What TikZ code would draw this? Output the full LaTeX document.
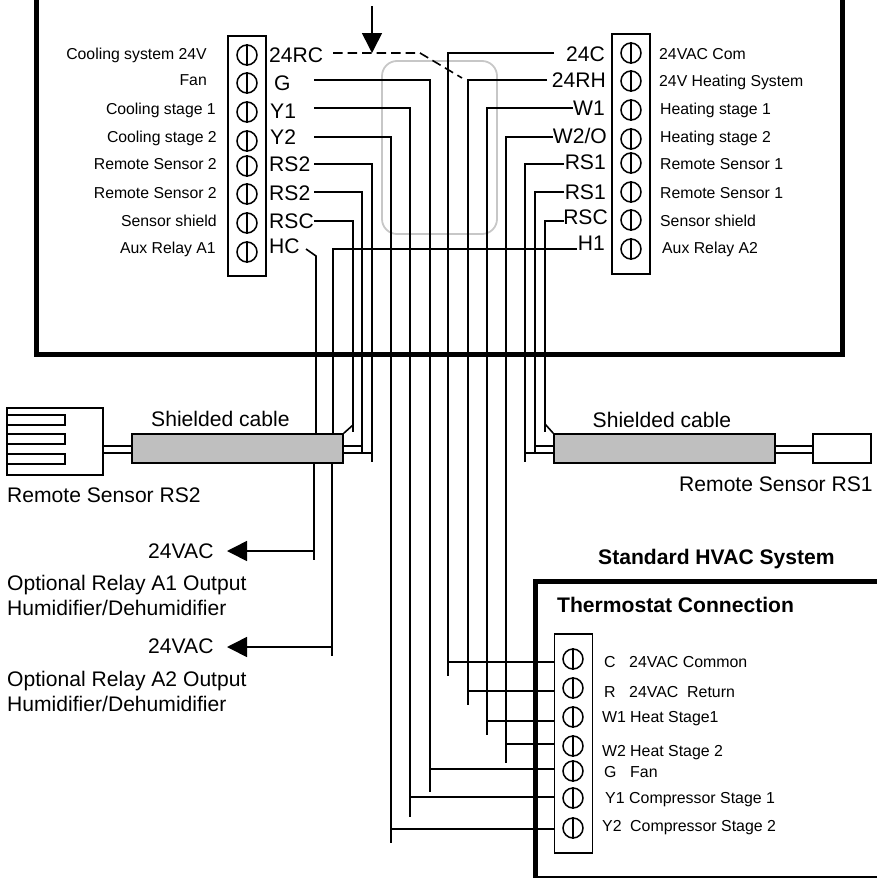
\documentclass[tikz,border=0pt]{standalone}
\usepackage{fontspec}
\setmainfont{Liberation Sans}
\usetikzlibrary{arrows.meta}
\newcommand{\fsmall}{\fontsize{15.8}{18}\selectfont}
\newcommand{\fbig}{\fontsize{21.1}{25}\selectfont}
\newcommand{\fhvac}{\fontsize{15.9}{18}\selectfont}
\tikzset{
  wirepen/.style={line width=1.6pt,black},
  heavy/.style={line width=5pt,black},
  strip/.style={draw,line width=1.8pt,fill=white},
  screw/.style={circle,draw,line width=1.5pt,minimum size=20pt,inner sep=0pt,fill=white},
  small/.style={font=\fsmall,text height=11.3pt,text depth=0pt,inner sep=0pt},
  big/.style={font=\fbig,text height=15.1pt,text depth=0pt,inner sep=0pt},
  multi/.style={font=\fbig,inner sep=0pt,anchor=north west,align=left},
  hvac/.style={font=\fhvac,text height=11.4pt,text depth=0pt,inner sep=0pt,anchor=west},
  cable/.style={draw,line width=1.6pt,fill=black!25},
  tip/.style={-{Triangle[length=20pt,width=20pt]},line width=1.6pt},
}
% wire: name, start x, start y, riser x, riser end y, landing y on the HVAC strip
\newcommand{\hvacwire}[6]{%
  \coordinate (#1s) at (#2,#3);
  \coordinate (#1e) at (#4,#5);
  \coordinate (#1t) at (554,#6);
  \draw[wirepen] (#1s) -| (#1e);
  \draw[wirepen] (#1e |- #1t) -- (#1t);
}
\newcommand{\screwset}[3]{% prefix, x, list of y
  \foreach \yy [count=\i] in {#3} {
    \node[screw] (#1\i) at (#2,\yy) {};
    \draw[line width=1.5pt] (#1\i.north) -- (#1\i.south);
  }
}
\begin{document}
\begin{tikzpicture}[x=1pt,y=-1pt]
\useasboundingbox (0,0) rectangle (876,878);

% thermostat enclosure
\coordinate (mainTL) at (36,-10);
\coordinate (mainBR) at (842,354.5);
\coordinate (mainTR) at (842,-10);
\draw[heavy] (mainTL) |- (mainBR) -- (mainTR);

% translucent rounded outline
\node[draw=black!22,line width=1.8pt,rounded corners=15pt,minimum width=115pt,minimum height=173pt,inner sep=0pt] (window) at (439.5,147.5) {};

% HVAC enclosure
\coordinate (hvTR) at (890,581);
\coordinate (hvBL) at (535,878);
\coordinate (hvBR) at (890,878);
\draw[heavy] (hvTR) -| (hvBL) -- (hvBR);

% wires that continue to the HVAC strip
\hvacwire{g}{314}{80}{430}{792}{769}
\hvacwire{yone}{314}{108}{410}{817}{797}
\hvacwire{ytwo}{314}{137}{391}{843}{829}
\hvacwire{c}{554}{53}{448}{676}{662}
\hvacwire{r}{547}{80}{468}{705}{691}
\hvacwire{wone}{573}{108}{487}{735}{721}
\hvacwire{wtwo}{553}{137}{506}{763}{744}

% sensor wires, left
\coordinate (lA) at (314,164); \coordinate (lAe) at (372,462); \coordinate (lAc) at (343,453);
\coordinate (lB) at (314,192); \coordinate (lBe) at (362,452); \coordinate (lBc) at (343,446);
\coordinate (lC) at (314,221); \coordinate (lCe) at (353,432); \coordinate (lCd) at (353,425);
\draw[wirepen] (lA) -| (lAe);
\draw[wirepen] (lB) -| (lBe);
\draw[wirepen] (lC) -| (lCe);
\draw[wirepen] (lAc) -- (lAc -| lAe);
\draw[wirepen] (lBc) -- (lBc -| lBe);

% sensor wires, right
\coordinate (rA) at (564,164); \coordinate (rAe) at (525,462); \coordinate (rAc) at (554,453);
\coordinate (rB) at (564,192); \coordinate (rBe) at (535,452); \coordinate (rBc) at (554,446);
\coordinate (rC) at (564,221); \coordinate (rCe) at (545,432); \coordinate (rCd) at (545,424);
\draw[wirepen] (rA) -| (rAe);
\draw[wirepen] (rB) -| (rBe);
\draw[wirepen] (rC) -| (rCe);
\draw[wirepen] (rAc) -- (rAc -| rAe);
\draw[wirepen] (rBc) -- (rBc -| rBe);

% aux relay wires
\coordinate (hcA) at (306,249); \coordinate (hcB) at (316,256); \coordinate (hcC) at (316,434);
\draw[wirepen] (hcA) -- (hcB) -- (hcC);
\coordinate (hOne) at (577,249); \coordinate (hBend) at (333,249); \coordinate (hEnd) at (333,434);
\draw[wirepen] (hOne) -- (hBend) -- (hEnd);

% jumper and arrow
\coordinate (jA) at (333,53); \coordinate (jB) at (420,53); \coordinate (jC) at (462,78);
\draw[line width=1.6pt,dash pattern=on 9.5pt off 5pt] (jA) -- (jB) -- (jC);
\coordinate (ptrA) at (372,6); \coordinate (ptrB) at (372,53);
\draw[tip] (ptrA) -- (ptrB);

% terminal strips
\node[strip,minimum width=38pt,minimum height=240pt,inner sep=0pt] (stripL) at (247,156) {};
\node[strip,minimum width=38pt,minimum height=240pt,inner sep=0pt] (stripR) at (631,154) {};
\node[strip,minimum width=38pt,minimum height=219pt,inner sep=0pt] (stripH) at (573.5,743.5) {};
\screwset{sl}{247}{55,83,112,141,166,194,223,252}
\screwset{sr}{631}{53,81,110,139,163,192,220,249}
\screwset{sh}{573}{659,688,717,746,771,798,828}

% left labels
\foreach \t/\xx/\yy [count=\i] in {Cooling system 24V/207/53.7,Fan/207/80.3,Cooling stage 1/216/108.5,Cooling stage 2/217/136.5,Remote Sensor 2/217/163.5,Remote Sensor 2/217/192.5,Sensor shield/217/221,Aux Relay A1/216/247.5}
  \node[small,anchor=east] (ll\i) at (\xx,\yy) {\t};
% right labels
\foreach \t/\xx/\yy [count=\i] in {24VAC Com/659/54,24V Heating System/659/81,Heating stage 1/660/109,Heating stage 2/660/137,Remote Sensor 1/660/163.5,Remote Sensor 1/660/192.5,Sensor shield/660/221,Aux Relay A2/662/248}
  \node[small,anchor=west] (rl\i) at (\xx,\yy) {\t};
% left terminal names
\foreach \t/\xx/\yy [count=\i] in {24RC/269/55,G/274/83,Y1/270/111,Y2/270/136.5,RS2/269/164,RS2/269/192.5,RSC/269/221,HC/269/246}
  \node[big,anchor=west] (lt\i) at (\xx,\yy) {\t};
% right terminal names
\foreach \t/\xx/\yy [count=\i] in {24C/605/54,24RH/606/80,W1/605/108.3,W2\slash O/607/135.5,RS1/606/162,RS1/606/192,RSC/608/217,H1/605/243}
  \node[big,anchor=east] (rt\i) at (\xx,\yy) {\t};

% left sensor connector
\node[draw,line width=1.8pt,fill=white,minimum width=96pt,minimum height=67pt,inner sep=0pt] (sensL) at (55,441.5) {};
\foreach \yy in {420,439,459}
  \draw[line width=1.6pt] (sensL.west |- 0,\yy-5) -| (65,\yy+5) -- (sensL.west |- 0,\yy+5);
% right sensor
\node[draw,line width=1.6pt,fill=white,minimum width=58pt,minimum height=29pt,inner sep=0pt] (sensR) at (842,448.5) {};

% shielded cables
\node[cable,minimum width=211pt,minimum height=29pt,inner sep=0pt] (cabL) at (237.5,448.5) {};
\node[cable,minimum width=221pt,minimum height=29pt,inner sep=0pt] (cabR) at (664.5,448.5) {};
\draw[line width=2pt] (sensL.east |- 0,445.5) -- (cabL.west |- 0,445.5);
\draw[line width=2pt] (sensL.east |- 0,453) -- (cabL.west |- 0,453);
\draw[line width=2pt] (cabR.east |- 0,446) -- (sensR.west |- 0,446);
\draw[line width=2pt] (cabR.east |- 0,453) -- (sensR.west |- 0,453);
\draw[wirepen] (lCd) -- (cabL.north east);
\draw[wirepen] (rCd) -- (cabR.north west);

\node[big,anchor=west] (cabLt) at (151,419) {Shielded cable};
\node[big,anchor=west] (cabRt) at (592.5,419.5) {Shielded cable};
\node[big,anchor=west] (rsTwo) at (7,495) {Remote Sensor RS2};
\node[big,anchor=west] (rsOne) at (679,483.7) {Remote Sensor RS1};

% relay outputs
\coordinate (aOneEnd) at (314,560); \coordinate (aOneT) at (314,551); \coordinate (aOneH) at (227,551);
\coordinate (aTwoEnd) at (332,656); \coordinate (aTwoT) at (332,647); \coordinate (aTwoH) at (227,647);
\draw[wirepen] (cabL.south -| aOneEnd) -- (aOneEnd);
\draw[wirepen] (cabL.south -| aTwoEnd) -- (aTwoEnd);
\draw[tip] (aOneT) -- (aOneH);
\draw[tip] (aTwoT) -- (aTwoH);
\node[big,anchor=west] (vOne) at (148,550.7) {24VAC};
\node[big,anchor=west] (vTwo) at (148,646) {24VAC};
\node[multi] (relOne) at (7,575.2) {Optional Relay A1 Output\\Humidifier/Dehumidifier};
\node[multi] (relTwo) at (7,671.2) {Optional Relay A2 Output\\Humidifier/Dehumidifier};

% HVAC text
\node[big,anchor=west,font=\fbig\bfseries] (hvTitle) at (598,556.7) {Standard HVAC System};
\node[big,anchor=west,font=\fbig\bfseries] (hvConn) at (557,604.5) {Thermostat Connection};
\foreach \a/\xa/\b/\xb/\yy [count=\i] in {C/604/24VAC Common/629/661.7,R/604/24VAC\ \ Return/629/692,W1/602/Heat Stage1/630/716.7,W2/602/Heat Stage 2/630/750.8,G/604/Fan/630/771.5,Y1/605/Compressor Stage 1/629/797.5,Y2/602/Compressor Stage 2/630/825.8} {
  \node[hvac] (ha\i) at (\xa,\yy) {\a};
  \node[hvac] (hb\i) at (\xb,\yy) {\b};
}
\end{tikzpicture}
\end{document}
